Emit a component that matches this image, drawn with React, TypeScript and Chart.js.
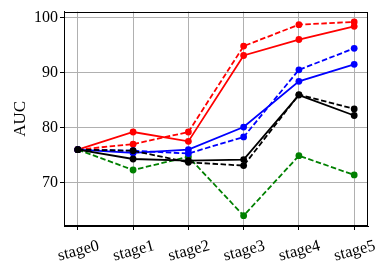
import React, { useEffect, useRef } from "react";
import { Chart, registerables } from "chart.js";

Chart.register(...registerables);

const categories = ["stage0", "stage1", "stage2", "stage3", "stage4", "stage5"];
const yTicks = [70, 80, 90, 100];

const redSolid = [76.0, 79.2, 77.5, 93.1, 96.0, 98.4];
const redDashed = [76.0, 77.0, 79.2, 94.8, 98.7, 99.2];
const blueSolid = [76.0, 75.4, 76.0, 80.1, 88.4, 91.5];
const blueDashed = [76.0, 75.8, 75.3, 78.3, 90.5, 94.4];
const blackSolid = [76.0, 74.3, 74.0, 74.2, 85.9, 82.2];
const blackDashed = [76.0, 75.8, 73.7, 73.1, 86.0, 83.4];
const greenDashed = [76.0, 72.3, 74.7, 64.0, 74.9, 71.4];

const FONT = "'Liberation Serif', 'DejaVu Serif', serif";

const toPoints = (vals: number[]) => vals.map((y, i) => ({ x: i, y }));

const frame = {
  id: "frame",
  afterDatasetsDraw(chart: any) {
    const { ctx, chartArea } = chart;
    ctx.save();
    ctx.strokeStyle = "#000";
    ctx.lineWidth = 1;
    ctx.strokeRect(
      Math.round(chartArea.left) + 0.5,
      Math.round(chartArea.top) + 0.5,
      Math.round(chartArea.right - chartArea.left) - 1,
      Math.round(chartArea.bottom - chartArea.top) - 1
    );
    ctx.restore();
  },
};

export default function App() {
  const ref = useRef<HTMLCanvasElement>(null);
  useEffect(() => {
    if (!ref.current) return;
    const mk = (label: string, vals: number[], color: string, dashed: boolean) => ({
      label,
      data: toPoints(vals),
      borderColor: color,
      backgroundColor: color,
      borderWidth: 1.8,
      borderDash: dashed ? [5.5, 2.5] : [],
      pointRadius: 3.4,
      pointBorderWidth: 0,
      pointBackgroundColor: color,
      fill: false,
      tension: 0,
    });
    const chart = new Chart(ref.current, {
      type: "line",
      data: {
        datasets: [
          mk("black dashed", blackDashed, "#000000", true),
          mk("black solid", blackSolid, "#000000", false),
          mk("blue dashed", blueDashed, "#0000ff", true),
          mk("blue solid", blueSolid, "#0000ff", false),
          mk("red dashed", redDashed, "#ff0000", true),
          mk("red solid", redSolid, "#ff0000", false),
          mk("green dashed", greenDashed, "#008000", true),
        ],
      },
      options: {
        animation: false,
        responsive: false,
        devicePixelRatio: 1,
        layout: { padding: { left: 0, top: 11, right: 21, bottom: 0 } },
        plugins: { legend: { display: false }, tooltip: { enabled: false } },
        scales: {
          x: {
            type: "linear",
            min: -0.25,
            max: 5.25,
            afterBuildTicks: (s: any) => {
              s.ticks = categories.map((_, i) => ({ value: i }));
            },
            afterFit: (s: any) => {
              s.height = 48;
            },
            grid: { color: "#b0b0b0", lineWidth: 1, tickLength: 4, tickColor: "#000", drawTicks: true },
            border: { display: true, color: "#000", width: 1 },
            ticks: {
              autoSkip: false,
              minRotation: 15,
              maxRotation: 15,
              labelOffset: 21,
              padding: 6,
              color: "#000",
              font: { family: FONT, size: 16.5 },
              callback: (v: any) => categories[Math.round(Number(v))] ?? "",
            },
          },
          y: {
            type: "linear",
            min: 62.13,
            max: 101.07,
            afterBuildTicks: (s: any) => {
              s.ticks = yTicks.map((v) => ({ value: v }));
            },
            afterFit: (s: any) => {
              s.width = 64;
            },
            grid: { color: "#b0b0b0", lineWidth: 1, tickLength: 4, tickColor: "#000", drawTicks: true },
            border: { display: true, color: "#000", width: 1 },
            ticks: {
              padding: 2,
              color: "#000",
              font: { family: FONT, size: 16 },
            },
            title: {
              display: true,
              text: "AUC",
              color: "#000",
              font: { family: FONT, size: 17 },
              padding: { top: 10, bottom: 0 },
            },
          },
        },
      },
      plugins: [frame],
    });
    return () => chart.destroy();
  }, []);
  return (
    <div style={{ position: "fixed", left: 0, top: 0, width: 389, height: 274, background: "#fff" }}>
      <canvas ref={ref} width={389} height={274} style={{ display: "block" }} />
    </div>
  );
}
